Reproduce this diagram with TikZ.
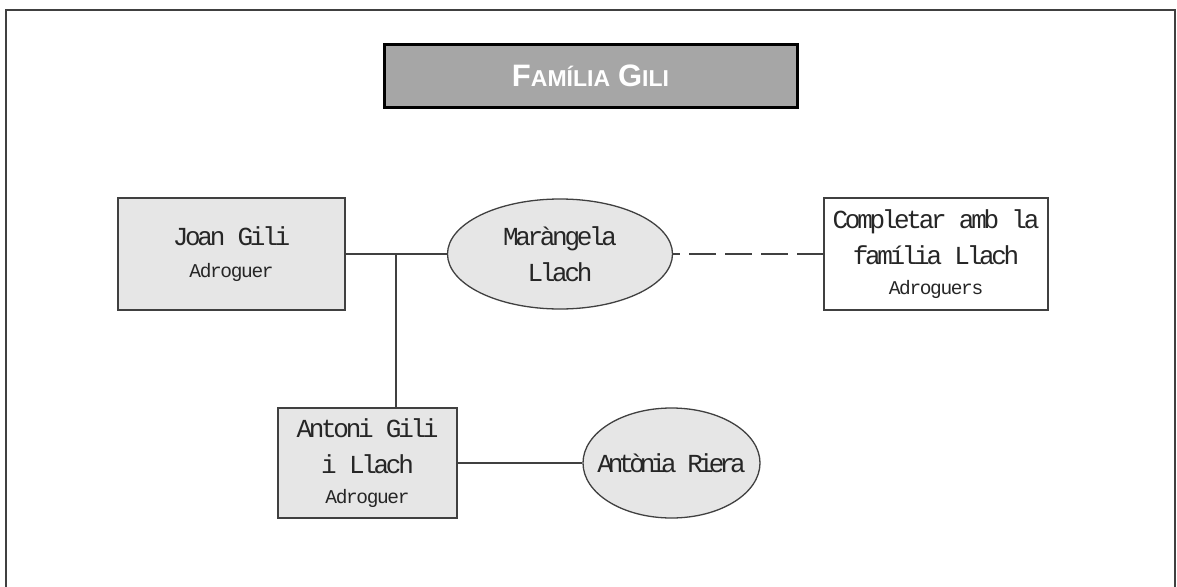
\documentclass[tikz,border=0pt]{standalone}
\usepackage{fontspec}
\setmainfont{Liberation Serif}
\newfontfamily\mainfam[LetterSpace=-12.7]{Liberation Mono}
\newfontfamily\tightfam[LetterSpace=-19]{Liberation Mono}
\newfontfamily\subfam[LetterSpace=-7]{Liberation Mono}
\newfontfamily\titlefam{Liberation Sans}
\usetikzlibrary{shapes.geometric}
\definecolor{boxfill}{HTML}{E6E6E6}
\definecolor{titlefill}{HTML}{A6A6A6}
\definecolor{edge}{HTML}{404040}
\newcommand{\mf}{\mainfam\fontsize{26}{36}\selectfont}
\newcommand{\tf}{\tightfam\fontsize{26}{36}\selectfont}
\newcommand{\sbf}{\subfam\fontsize{19.5}{30}\selectfont}
\newcommand{\tbigcap}[1]{{\fontsize{31}{32}\selectfont #1}}
\newcommand{\tsmallcap}[1]{{\fontsize{23}{32}\selectfont #1}}
\tikzset{
  person/.style={draw=edge, line width=1.3pt, fill=boxfill, rectangle, inner sep=0pt, align=center, text=black!85, font=\mf},
  spouse/.style={draw=edge, line width=1.3pt, fill=boxfill, ellipse, inner sep=0pt, align=center, text=black!85, font=\mf},
  label/.style={inner sep=0pt, align=center, text=black!85},
  link/.style={draw=edge, line width=1.3pt},
  dlink/.style={draw=edge, line width=1.6pt, dash pattern=on 27pt off 9pt, dash phase=20pt},
  frame/.style={draw=edge, line width=2.2pt},
  titlebox/.style={draw=black, line width=3pt, fill=titlefill, inner sep=0pt, text=white, font=\titlefam\bfseries},
}
\begin{document}
\begin{tikzpicture}[x=1pt,y=-1pt]
\useasboundingbox (0,0) rectangle (1177,586);
\draw[frame] (6,600) -- (6,10) -- (1175,10) -- (1175,600);
\node[titlebox, minimum width=413pt, minimum height=62pt] (title) at (590.5,76)
  {\tbigcap{F}\tsmallcap{AMÍLIA}\hspace{8pt}\tbigcap{G}\tsmallcap{ILI}};
\node[person, minimum width=227pt, minimum height=112pt] (joan) at (231.5,254) {Joan Gili\\[-4pt]\sbf Adroguer};
\node[spouse, minimum width=225pt, minimum height=110pt] (mar) at (560,254) {Maràngela\\Llach};
\node[person, fill=white, minimum width=224pt, minimum height=112pt] (compl) at (936,254) {Completar amb la\\família Llach\\[-6pt]\sbf Adroguers};
\node[person, minimum width=179pt, minimum height=110pt] (antoni) at (367.5,463) {Antoni Gili\\i Llach\\[-6pt]\sbf Adroguer};
\node[spouse, minimum width=177pt, minimum height=110pt] (antonia) at (671.5,463) {};
\node[label, font=\tf] (antoniatext) at (antonia.center) {Antònia Riera};
\coordinate (junc) at (396,254);
\draw[link] (joan.east) -- (joan.east -| mar.west);
\draw[link] (junc) -- (junc |- antoni.north);
\draw[dlink] (mar.east |- compl.west) -- (compl.west);
\draw[link] (antoni.east) -- (antonia.west);
\end{tikzpicture}
\end{document}
